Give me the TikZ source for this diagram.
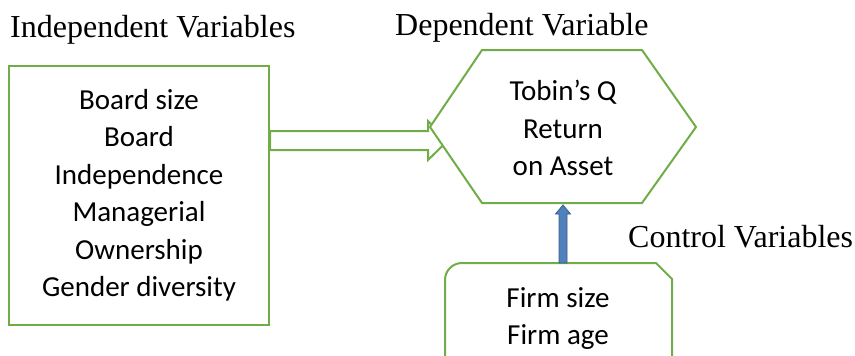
\documentclass[tikz,border=0pt]{standalone}
\usepackage{fontspec}
\setmainfont{Liberation Serif}
\newfontfamily\calibri{Carlito}
\usetikzlibrary{positioning}
\usetikzlibrary{calc}
\definecolor{boxgreen}{RGB}{112,173,71}
\definecolor{arrowblue}{RGB}{79,129,189}
\definecolor{arrowedge}{RGB}{56,93,138}
\tikzset{
    title/.style = {anchor=base west, inner sep=0pt, font=\fontsize{32}{38}\selectfont},
    vartext/.style = {align=center, inner sep=0pt, font=\calibri\fontsize{29}{37.5}\selectfont},
    varbox/.style = {vartext, rectangle, draw=boxgreen, line width=2pt, minimum width=260pt, minimum height=259pt},
    greenline/.style = {draw=boxgreen, line width=2pt, line join=miter},
    bluearrow/.style = {fill=arrowblue, draw=arrowedge, line width=0.8pt}
}

\begin{document}
\begin{tikzpicture}[x=1pt, y=-1pt]
\useasboundingbox (0,0) rectangle (855,356);
% titles
\node [title] (tindep) at (10,37) {Independent Variables};
\node [title] (tdep) at (395,35) {Dependent Variable};
\node [title] (tctrl) at (628,247) {Control Variables};
% independent variables
\node [varbox] (indep) at (139,195.5) {Board size\\Board\\Independence\\Managerial\\Ownership\\Gender diversity};
% dependent variable
\coordinate (dep-w) at (430,127);
\coordinate (dep-s) at (563,203);
\draw [greenline] (indep.east |- 0,131) -- (428,131) -- (428,121) -- (448,140.5) -- (428,160) -- (428,150) -- (indep.east |- 0,150) -- cycle;
\draw [greenline, fill=white] (dep-w) -- (482,50) -- (642,50) -- (696,127) -- (642,203) -- (482,203) -- cycle;
\node [vartext] (dep) at (563,128) {Tobin’s Q\\Return\\on Asset};
% control variables
\draw [greenline] (445,380) -- (445,280) .. controls (445,270.6) and (452.6,263) .. (462,263) -- (656,263) -- (672,279) -- (672,380);
\node [vartext, anchor=north] (ctrl) at (558,287) {Firm size\\Firm age};
\coordinate (ctrl-n) at (563,263);
\draw [bluearrow] ($(ctrl-n)+(-4,0)$) -- ($(dep-s)+(-4,11)$) -- ($(dep-s)+(-7.5,11)$) -- ($(dep-s)+(0,2)$)
    -- ($(dep-s)+(7.5,11)$) -- ($(dep-s)+(4,11)$) -- ($(ctrl-n)+(4,0)$) -- cycle;
\end{tikzpicture}
\end{document}
